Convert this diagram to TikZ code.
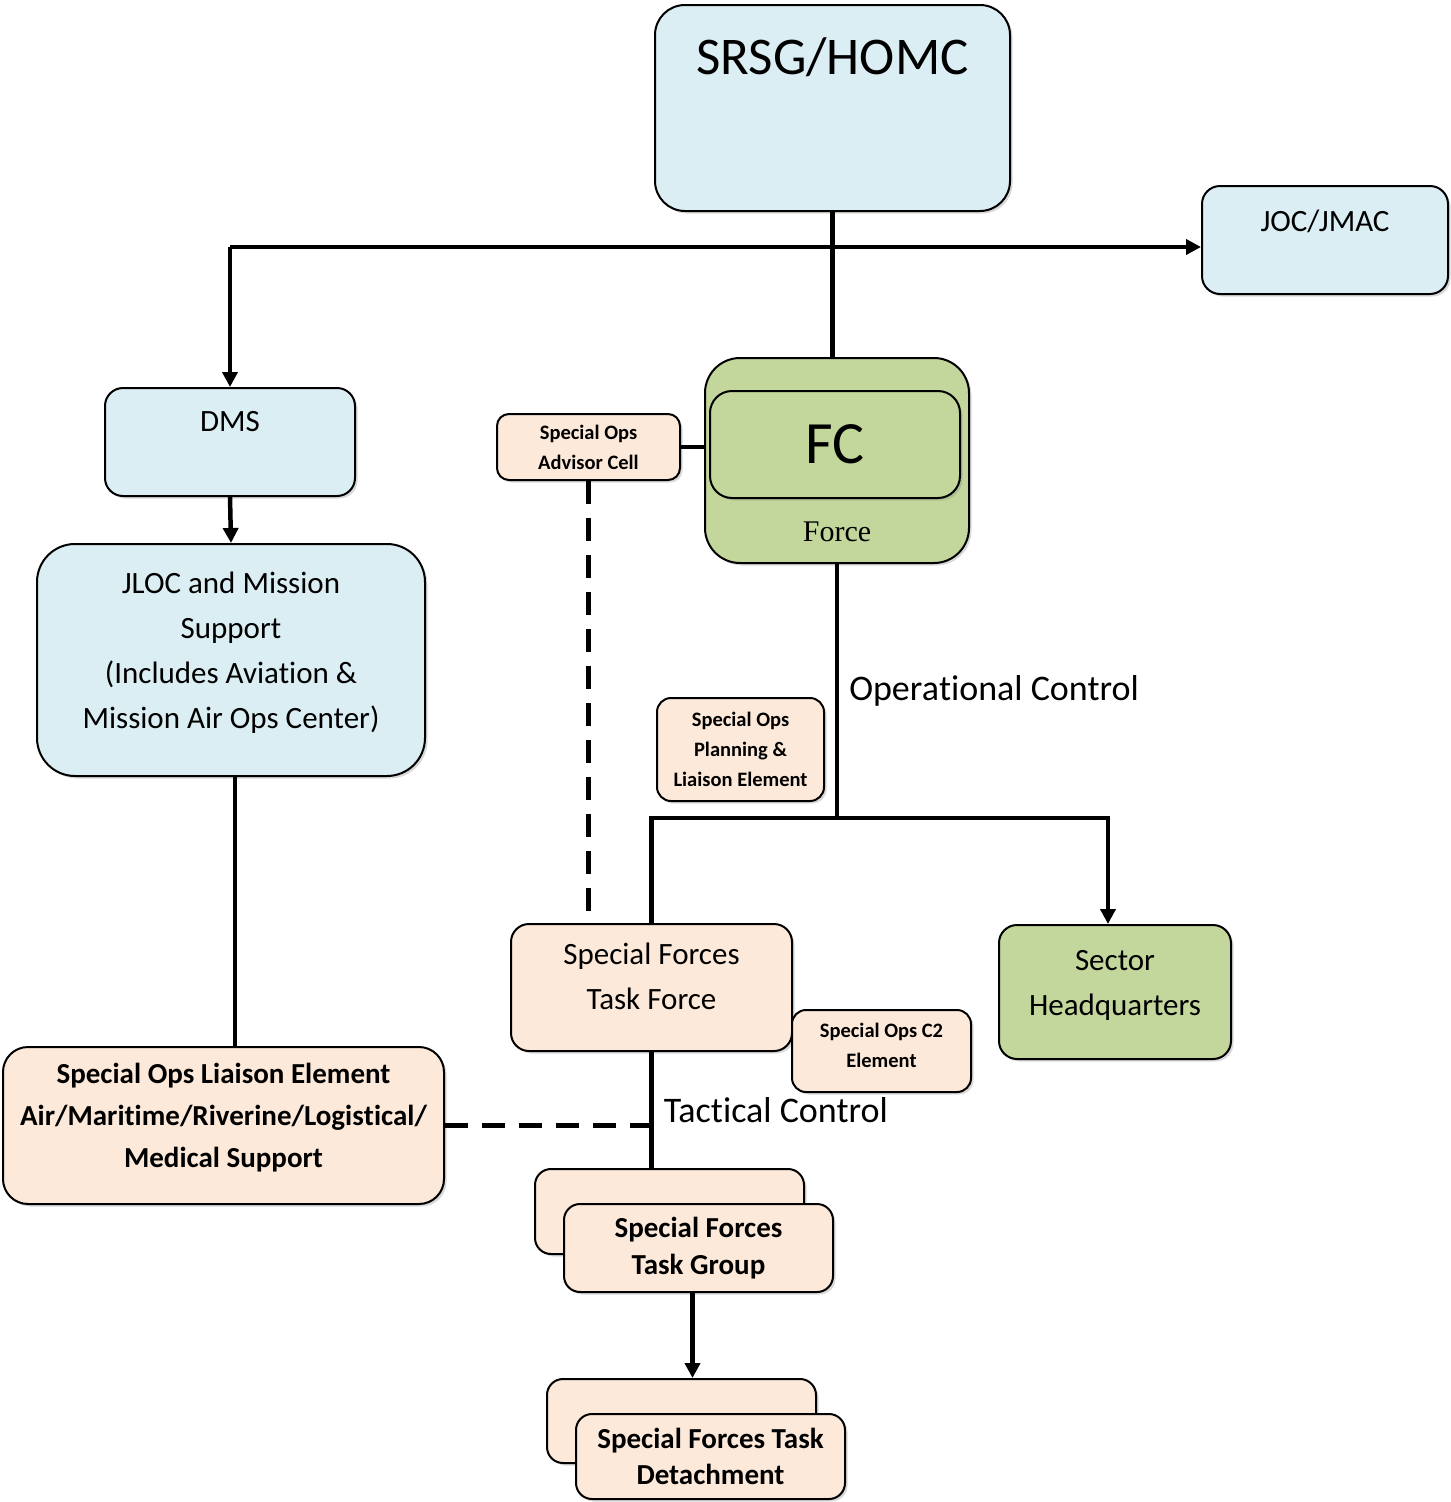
\documentclass[tikz,border=0pt]{standalone}
\usepackage{fontspec}
\setmainfont{Carlito}[Ligatures={NoCommon,NoContextual,NoRequired}, Contextuals=NoAlternate]
\newfontfamily\forcefont{Liberation Serif}
\usepackage{tikz}
\usetikzlibrary{arrows.meta,shadows}
\definecolor{skyfill}{RGB}{219,238,244}
\definecolor{leaffill}{RGB}{195,214,155}
\definecolor{peachfill}{RGB}{253,233,217}

\begin{document}
\begin{tikzpicture}[x=1pt, y=-1pt,
	panel/.style={draw, line width=2pt, inner sep=0pt, align=center, drop shadow={shadow xshift=2.5pt, shadow yshift=-2.5pt, opacity=0.3}},
	skypanel/.style={panel, fill=skyfill},
	leafpanel/.style={panel, fill=leaffill},
	peachpanel/.style={panel, fill=peachfill},
	intext/.style={anchor=center, inner sep=0pt, align=center, yshift=#1},
	intext/.default=0pt,
	boxfont/.style={font=\fontsize{31}{45}\selectfont},
	boldfont/.style={font=\bfseries\fontsize{29}{#1}\selectfont},
	smallfont/.style={font=\bfseries\fontsize{20.5}{30}\selectfont},
	linefont/.style={font=\fontsize{36}{40}\selectfont},
	wire/.style={line width=4.5pt},
	wirearrow/.style={wire, -{Triangle[length=15pt, width=15pt]}},
	dashwire/.style={wire, dash pattern=on 23pt off 14pt}
]
	\useasboundingbox (0,0) rectangle (1451,1502);

	\node[skypanel, rounded corners=30pt, minimum width=355pt, minimum height=206pt, label={[intext=-53pt, font=\fontsize{53}{60}\selectfont]north:SRSG/HOMC}] (srsg) at (832.5,108) {};
	\node[skypanel, rounded corners=18pt, minimum width=246pt, minimum height=108pt, label={[intext=-36pt, boxfont]north:JOC/JMAC}] (joc) at (1325,240) {};
	\node[skypanel, rounded corners=18pt, minimum width=250pt, minimum height=108pt, label={[intext=-35pt, boxfont]north:DMS}] (dms) at (230,442) {};
	\node[skypanel, rounded corners=38pt, minimum width=388pt, minimum height=232pt, label={[intext=7pt, boxfont]center:{JLOC and Mission\\Support\\(Includes Aviation \&\\Mission Air Ops Center)}}] (jloc) at (231,660) {};
	\node[peachpanel, rounded corners=25pt, minimum width=441pt, minimum height=157pt, label={[intext=8pt, boldfont=42]center:{Special Ops Liaison Element\\Air/Mari\kern0pt time/Riverine/Logis\kern0pt tical/\\Medical Support}}] (sole) at (223.5,1125.5) {};

	\node[leafpanel, rounded corners=35pt, minimum width=264pt, minimum height=205pt, label={[intext=32pt, font=\forcefont\fontsize{30}{36}\selectfont]south:Force}] (fc) at (837,460.5) {};
	\node[leafpanel, rounded corners=22pt, minimum width=250pt, minimum height=107pt, font=\fontsize{60}{70}\selectfont] (fcin) at (835,444.5) {FC};
	\node[peachpanel, rounded corners=12pt, minimum width=183pt, minimum height=66pt, smallfont] (adv) at (588.5,447) {Special Ops\\Advisor Cell};
	\node[peachpanel, rounded corners=14pt, minimum width=167pt, minimum height=103pt, smallfont] (plan) at (740.5,749.5) {Special Ops\\Planning \&\\Liaison Element};

	\node[peachpanel, rounded corners=18pt, minimum width=281pt, minimum height=127pt, label={[intext=11pt, boxfont]center:{Special Forces\\Task Force}}] (sftf) at (651.5,987.5) {};
	\node[peachpanel, rounded corners=14pt, minimum width=179pt, minimum height=82pt, label={[intext=5.5pt, smallfont]center:{Special Ops C2\\Element}}] (ctwo) at (881.5,1051) {};
	\node[leafpanel, rounded corners=18pt, minimum width=232pt, minimum height=134pt, label={[intext=7pt, boxfont]center:{Sector\\Headquarters}}] (sector) at (1115,992) {};

	\node[peachpanel, rounded corners=16pt, minimum width=269pt, minimum height=85pt] (sftgb) at (669.5,1211.5) {};
	\node[peachpanel, rounded corners=16pt, minimum width=269pt, minimum height=88pt, boldfont=37] (sftg) at (698.5,1248) {Special Forces\\Task Group};
	\node[peachpanel, rounded corners=16pt, minimum width=269pt, minimum height=84pt] (sftdb) at (681.5,1421) {};
	\node[peachpanel, rounded corners=16pt, minimum width=269pt, minimum height=85pt, boldfont=36] (sftd) at (710.5,1456.5) {Special Forces Task\\Detachment};

	\coordinate (split) at (230,247);
	\coordinate (tee) at (838,818);

	\draw[wire] (srsg.south) -- (srsg.south |- fc.north);
	\draw[wirearrow] (split) -- (split -| joc.west);
	\draw[wirearrow] (split) -- (dms.north);
	\draw[wirearrow] (dms.south) -- (jloc.north);
	\draw[wire] ([xshift=4pt]jloc.south) -- ([xshift=4pt]jloc.south |- sole.north);
	\draw[wire] (adv.east) -- (adv.east -| fc.west);
	\draw[dashwire] (adv.south) -- ([yshift=6pt]adv.south |- sftf.north);
	\draw[wire] (fc.south) -- (fc.south |- tee) node[pos=0.5, anchor=west, inner sep=0pt, xshift=10pt, linefont] (opcon) {Opera\kern0pt tional Control};
	\draw[wire] (sftf.north) |- (tee);
	\draw[wirearrow] (tee) -| ([xshift=-7pt]sector.north);
	\draw[wire] (sftf.south) -- (sftf.south |- sftgb.north) node[pos=0.5, anchor=west, inner sep=0pt, xshift=10pt, linefont] (taccon) {Tac\kern0pt tical Control};
	\draw[dashwire] (sole.east) -- (sole.east -| sftf.south);
	\draw[wirearrow] ([xshift=-6pt]sftg.south) -- ([xshift=-6pt]sftg.south |- sftdb.north);
\end{tikzpicture}
\end{document}
